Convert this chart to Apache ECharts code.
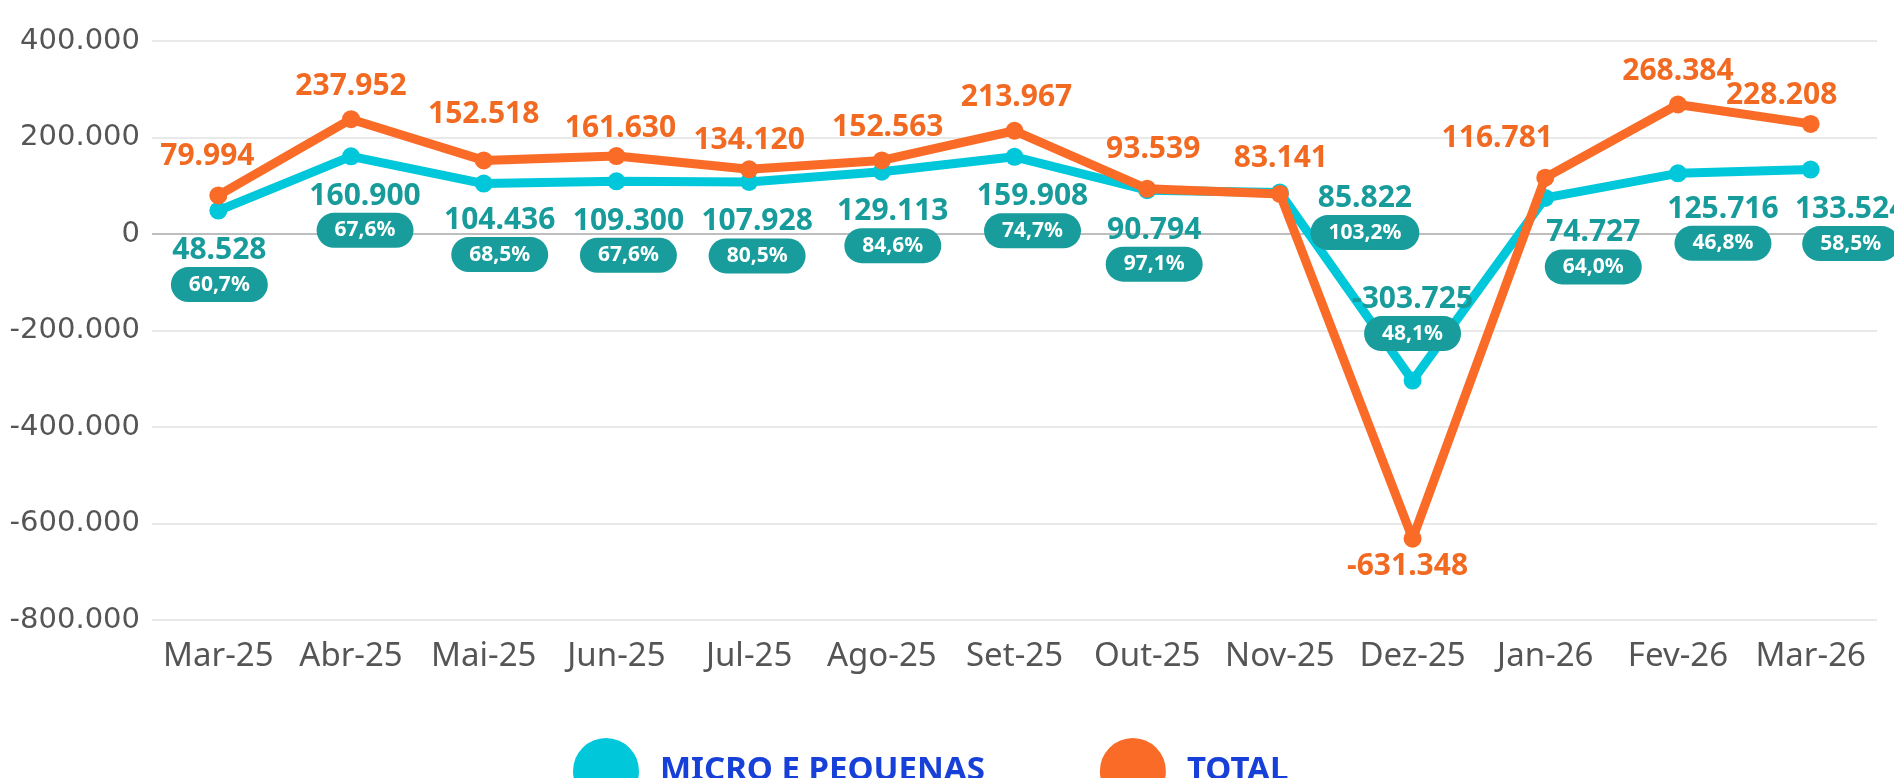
<!DOCTYPE html>
<html>
<head>
<meta charset="utf-8">
<script src="https://cdn.jsdelivr.net/npm/echarts@6/dist/echarts.min.js"></script>
<style>
  html, body { margin: 0; padding: 0; background: #fff; }
  #chart { width: 1894px; height: 778px; }
</style>
</head>
<body>
<div id="chart"></div>
<script>
// dados do gráfico
var categories = ['Mar-25', 'Abr-25', 'Mai-25', 'Jun-25', 'Jul-25', 'Ago-25', 'Set-25', 'Out-25', 'Nov-25', 'Dez-25', 'Jan-26', 'Fev-26', 'Mar-26'];
var microValues = [48528, 160900, 104436, 109300, 107928, 129113, 159908, 90794, 85822, -303725, 74727, 125716, 133524];
var totalValues = [79994, 237952, 152518, 161630, 134120, 152563, 213967, 93539, 83141, -631348, 116781, 268384, 228208];
var microShare = [60.7, 67.6, 68.5, 67.6, 80.5, 84.6, 74.7, 97.1, 103.2, 48.1, 64.0, 46.8, 58.5];
var yTicks = [-800000, -600000, -400000, -200000, 0, 200000, 400000];
var seriesNames = ['MICRO E PEQUENAS', 'TOTAL'];

// ajustes de posição dos rótulos (só layout)
var microLabelShift = [[1, 0], [14, 0], [16, -3], [12, 0], [8, 0], [11, 0], [18, 0], [7, 0], [85, -34], [0, -19], [48, -5], [45, -4], [40, 0]];
var totalLabelShift = [[-11, -6], [0, 0], [0, -13], [4, 5], [0, 4], [6, 0], [2, 0], [6, -6], [1, -2], [-5, 0], [-48, -6], [0, 0], [-29, 5]];

var tealText = '#179b9b';
var orangeText = '#f26a22';
var clear = 'rgba(0,0,0,0)';

function fmt(v) {
  var s = Math.abs(v).toString().replace(/\B(?=(\d{3})+(?!\d))/g, '.');
  return (v < 0 ? '-' : '') + s;
}
function fmtPct(p) {
  return p.toFixed(1).replace('.', ',') + '%';
}

var microData = microValues.map(function (v, i) {
  var neg = v < 0;
  return {
    value: v,
    label: {
      position: neg ? 'top' : 'bottom',
      distance: 8,
      offset: microLabelShift[i]
    }
  };
});

var totalData = totalValues.map(function (v, i) {
  var neg = v < 0;
  return {
    value: v,
    label: {
      position: neg ? 'bottom' : 'top',
      distance: neg ? 4 : 9,
      offset: totalLabelShift[i]
    }
  };
});

var chart = echarts.init(document.getElementById('chart'));
chart.setOption({
  backgroundColor: '#ffffff',
  animation: false,
  grid: { left: 152, right: 17, top: 41, bottom: 158, containLabel: false },
  legend: {
    data: seriesNames,
    left: 568,
    top: 733,
    icon: 'circle',
    itemWidth: 66,
    itemHeight: 66,
    itemGap: 115,
    textStyle: {
      fontFamily: 'Noto Sans',
      fontWeight: 'bold',
      fontSize: 33,
      color: '#1740d8',
      padding: [0, 0, 0, 16]
    }
  },
  xAxis: {
    type: 'category',
    data: categories,
    boundaryGap: true,
    axisLine: { show: false },
    axisTick: { show: false },
    axisLabel: {
      interval: 0,
      fontFamily: 'Noto Sans',
      fontSize: 33,
      color: '#555555',
      margin: 20
    }
  },
  yAxis: {
    type: 'value',
    min: yTicks[0],
    max: yTicks[yTicks.length - 1],
    interval: 200000,
    axisLine: { show: false },
    axisTick: { show: false },
    splitLine: {
      lineStyle: {
        width: 1.5,
        color: ['#e2e2e2', '#e2e2e2', '#e2e2e2', '#e2e2e2', '#a9a9a9', '#e2e2e2', '#e2e2e2']
      }
    },
    axisLabel: {
      fontFamily: 'DejaVu Sans',
      fontSize: 29,
      color: '#555555',
      margin: 12,
      formatter: function (v) { return fmt(v); }
    }
  },
  series: [
    {
      name: seriesNames[0],
      type: 'line',
      data: microValues,
      color: '#00c8da',
      symbol: 'circle',
      symbolSize: 18,
      lineStyle: { width: 9, color: '#00c8da' },
      itemStyle: { color: '#00c8da' },
      z: 2
    },
    {
      name: seriesNames[1],
      type: 'line',
      data: totalData,
      color: '#f96b26',
      symbol: 'circle',
      symbolSize: 18,
      lineStyle: { width: 9, color: '#f96b26' },
      itemStyle: { color: '#f96b26' },
      z: 3,
      label: {
        show: true,
        fontFamily: 'Noto Sans',
        fontWeight: 'bold',
        fontSize: 30,
        color: orangeText,
        formatter: function (p) { return fmt(p.value); }
      }
    },
    {
      // rótulos da série micro por cima da linha laranja
      name: 'micro-rotulos',
      type: 'line',
      data: microData,
      symbol: 'circle',
      symbolSize: 18,
      lineStyle: { width: 0, color: clear },
      itemStyle: { color: clear },
      z: 4,
      silent: true,
      label: {
        show: true,
        formatter: function (p) {
          return '{v|' + fmt(p.value) + '}\n{p|' + fmtPct(microShare[p.dataIndex]) + '}';
        },
        rich: {
          v: {
            fontFamily: 'Noto Sans',
            fontWeight: 'bold',
            fontSize: 30,
            lineHeight: 46,
            color: tealText,
            align: 'center'
          },
          p: {
            fontFamily: 'Noto Sans',
            fontWeight: 'bold',
            fontSize: 21,
            lineHeight: 22,
            color: '#ffffff',
            backgroundColor: '#189c9c',
            borderRadius: 18,
            padding: [7, 18, 7, 18],
            align: 'center'
          }
        }
      }
    }
  ]
});
</script>
</body>
</html>
